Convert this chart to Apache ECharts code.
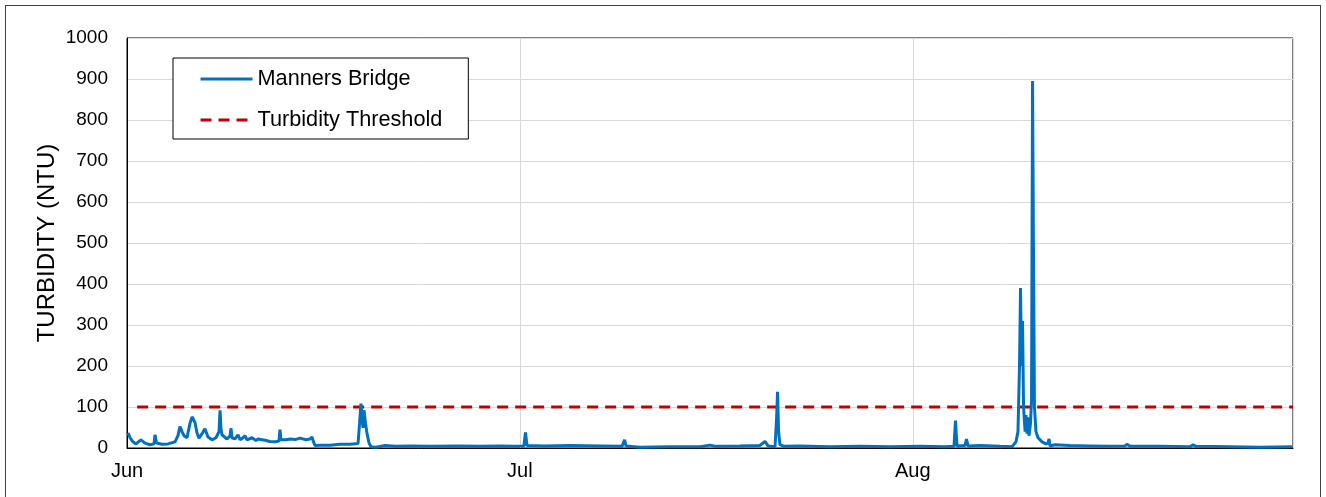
<!DOCTYPE html>
<html>
<head>
<meta charset="utf-8">
<title>Turbidity - Manners Bridge</title>
<script src="https://cdn.jsdelivr.net/npm/echarts@6/dist/echarts.min.js"></script>
<style>
  html, body {
    margin: 0;
    padding: 0;
    background: #fff;
  }

  #chart {
    width: 1326px;
    height: 497px;
  }

  .frame {
    position: absolute;
    left: 5px;
    top: 5px;
    width: 1316px;
    height: 500px;
    border: 1px solid #404040;
    box-sizing: border-box;
    pointer-events: none;
  }
</style>
</head>
<body>
<div id="chart"></div>
<div class="frame"></div>
<script>
  // days since Jun 1 (x axis runs Jun 1 -> Sep 1)
  var days = [
    0.08, 0.24, 0.47, 0.71, 1.10, 1.42, 1.81, 2.13, 2.21, 2.33,
    2.76, 3.23, 3.79, 4.02, 4.18, 4.34, 4.50, 4.73, 4.97, 5.13,
    5.36, 5.52, 5.68, 5.92, 6.15, 6.39, 6.71, 7.02, 7.26, 7.34,
    7.42, 7.50, 7.89, 8.13, 8.21, 8.28, 8.52, 8.76, 8.92, 9.15,
    9.31, 9.47, 9.86, 10.18, 10.34, 10.89, 11.28, 11.68, 11.99, 12.07,
    12.15, 12.55, 12.86, 13.33, 13.65, 14.12, 14.44, 14.60, 14.68, 14.83,
    15.23, 16.02, 16.81, 17.60, 18.23, 18.35, 18.46, 18.54, 18.62, 18.70,
    18.82, 18.94, 19.10, 19.25, 19.65, 20.36, 21.15, 22.33, 23.91, 26.27,
    27.85, 29.43, 30.61, 31.32, 31.44, 31.56, 32.98, 34.95, 37.32, 39.06,
    39.26, 39.37, 40.48, 42.84, 45.21, 46.00, 46.47, 48.37, 49.94, 50.34,
    50.58, 51.13, 51.25, 51.33, 51.41, 51.52, 51.84, 53.10, 55.47, 57.83,
    60.20, 62.57, 64.54, 65.25, 65.37, 65.49, 66.12, 66.24, 66.36, 67.30,
    68.88, 69.83, 70.14, 70.30, 70.42, 70.50, 70.58, 70.66, 70.74, 70.86,
    70.93, 71.01, 71.09, 71.17, 71.29, 71.37, 71.45, 71.52, 71.60, 71.72,
    71.88, 72.20, 72.51, 72.67, 72.75, 72.83, 73.22, 74.40, 75.98, 77.56,
    78.74, 78.90, 79.14, 81.50, 83.87, 84.11, 84.35, 87.03, 89.40, 91.92
  ];

  // turbidity (NTU), Manners Bridge
  var turbidity = [
    37, 25, 15, 10, 20, 12, 8, 10, 32, 12,
    9, 10, 15, 30, 52, 40, 30, 25, 60, 76,
    63, 37, 24, 35, 47, 27, 20, 25, 40, 92,
    45, 32, 22, 30, 48, 25, 22, 32, 20, 25,
    30, 20, 25, 18, 22, 19, 16, 15, 17, 45,
    20, 20, 22, 21, 24, 20, 22, 27, 18, 6,
    7, 7, 9, 9, 11, 60, 108, 80, 49, 92,
    60, 35, 12, 3, 2, 6, 4, 5, 4, 5,
    4, 5, 4, 5, 38, 6, 5, 6, 5, 4,
    20, 5, 2, 3, 3, 7, 4, 5, 6, 16,
    5, 3, 70, 137, 40, 8, 4, 5, 3, 4,
    3, 4, 3, 4, 67, 5, 6, 22, 5, 6,
    4, 3, 15, 40, 200, 390, 200, 310, 100, 40,
    80, 35, 75, 30, 60, 120, 895, 500, 100, 40,
    25, 15, 10, 12, 22, 5, 8, 6, 5, 4,
    5, 9, 4, 4, 3, 8, 4, 3, 2, 3
  ];

  var thresholdDays = [0.8, 92];
  var thresholdValues = [100, 100];

  var monthTicks = [0, 31, 62];
  var monthNames = ['Jun', 'Jul', 'Aug'];

  var font = "'Liberation Sans', Arial, sans-serif";

  var chart = echarts.init(document.getElementById('chart'));

  var option = {
    backgroundColor: '#fff',
    animation: false,
    textStyle: {fontFamily: font},
    grid: {
      left: 127,
      right: 33,
      top: 38,
      bottom: 49,
      show: true,
      borderColor: '#000',
      borderWidth: 1
    },
    legend: {
      orient: 'vertical',
      left: 173,
      top: 58,
      padding: [10, 26, 8, 26],
      itemWidth: 52,
      itemHeight: 14,
      itemGap: 19,
      borderColor: '#000',
      borderWidth: 1,
      backgroundColor: '#fff',
      itemStyle: {opacity: 0, borderWidth: 0},
      lineStyle: {width: 3},
      textStyle: {fontSize: 21.7, color: '#000', fontFamily: font},
      data: ['Manners Bridge', 'Turbidity Threshold']
    },
    xAxis: {
      type: 'value',
      min: 0,
      max: 92,
      interval: 31,
      axisLine: {lineStyle: {color: '#000', width: 1}},
      axisTick: {show: false},
      splitLine: {show: true, lineStyle: {color: '#d9d9d9', width: 1}},
      axisLabel: {
        fontSize: 20,
        color: '#000',
        margin: 13,
        formatter: function (v) {
          var i = monthTicks.indexOf(v);
          return i < 0 ? '' : monthNames[i];
        }
      }
    },
    yAxis: {
      type: 'value',
      min: 0,
      max: 1000,
      interval: 100,
      name: 'TURBIDITY (NTU)',
      nameLocation: 'middle',
      nameGap: 68,
      nameMoveOverlap: false,
      nameTextStyle: {fontSize: 24, color: '#000', fontFamily: font},
      axisLine: {show: true, lineStyle: {color: '#000', width: 1}},
      axisTick: {show: false},
      splitLine: {lineStyle: {color: '#d9d9d9', width: 1}},
      axisLabel: {
        fontSize: 19,
        color: '#000',
        margin: 19,
        formatter: function (v) { return String(v); }
      }
    },
    series: [
      {
        name: 'Manners Bridge',
        type: 'line',
        symbol: 'none',
        z: 3,
        lineStyle: {color: '#0070C0', width: 3},
        itemStyle: {color: '#0070C0'},
        data: days.map(function (d, i) { return [d, turbidity[i]]; })
      },
      {
        name: 'Turbidity Threshold',
        type: 'line',
        symbol: 'none',
        z: 2,
        lineStyle: {color: '#C00000', width: 3, type: [11, 7]},
        itemStyle: {color: '#C00000'},
        data: thresholdDays.map(function (d, i) { return [d, thresholdValues[i]]; })
      }
    ]
  };

  chart.setOption(option);
</script>
</body>
</html>
